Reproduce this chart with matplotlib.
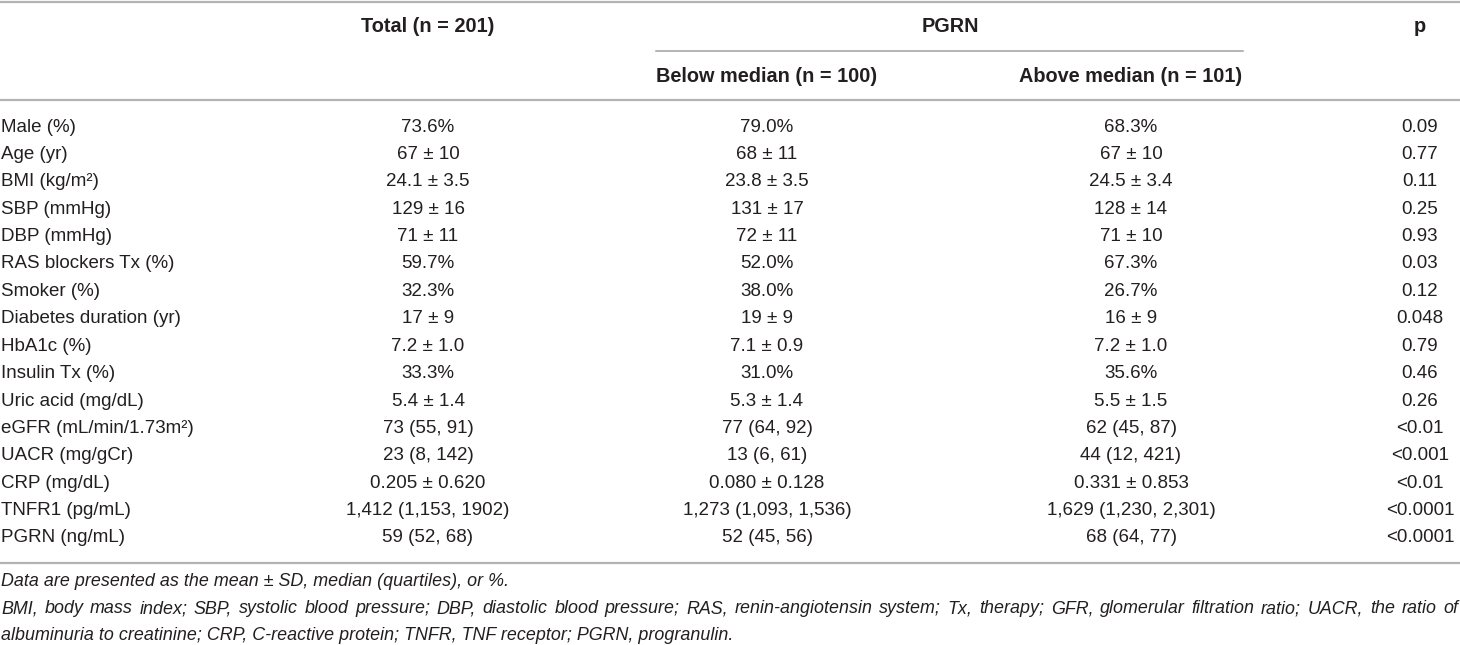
import matplotlib
matplotlib.use('Agg')
import matplotlib.pyplot as plt

plt.rcParams['font.family'] = ['Liberation Sans', 'DejaVu Sans']

row_labels = ['Male (%)', 'Age (yr)', 'BMI (kg/m²)', 'SBP (mmHg)', 'DBP (mmHg)',
              'RAS blockers Tx (%)', 'Smoker (%)', 'Diabetes duration (yr)',
              'HbA1c (%)', 'Insulin Tx (%)', 'Uric acid (mg/dL)',
              'eGFR (mL/min/1.73m²)', 'UACR (mg/gCr)', 'CRP (mg/dL)',
              'TNFR1 (pg/mL)', 'PGRN (ng/mL)']
total = ['73.6%', '67 ± 10', '24.1 ± 3.5', '129 ± 16', '71 ± 11', '59.7%', '32.3%',
         '17 ± 9', '7.2 ± 1.0', '33.3%', '5.4 ± 1.4', '73 (55, 91)', '23 (8, 142)',
         '0.205 ± 0.620', '1,412 (1,153, 1902)', '59 (52, 68)']
below = ['79.0%', '68 ± 11', '23.8 ± 3.5', '131 ± 17', '72 ± 11', '52.0%', '38.0%',
         '19 ± 9', '7.1 ± 0.9', '31.0%', '5.3 ± 1.4', '77 (64, 92)', '13 (6, 61)',
         '0.080 ± 0.128', '1,273 (1,093, 1,536)', '52 (45, 56)']
above = ['68.3%', '67 ± 10', '24.5 ± 3.4', '128 ± 14', '71 ± 10', '67.3%', '26.7%',
         '16 ± 9', '7.2 ± 1.0', '35.6%', '5.5 ± 1.5', '62 (45, 87)', '44 (12, 421)',
         '0.331 ± 0.853', '1,629 (1,230, 2,301)', '68 (64, 77)']
p_vals = ['0.09', '0.77', '0.11', '0.25', '0.93', '0.03', '0.12', '0.048', '0.79',
          '0.46', '0.26', '<0.01', '<0.001', '<0.01', '<0.0001', '<0.0001']

head_total = 'Total (n = 201)'
head_group = 'PGRN'
head_below = 'Below median (n = 100)'
head_above = 'Above median (n = 101)'
head_p = 'p'

notes = ['Data are presented as the mean ± SD, median (quartiles), or %.',
         'BMI, body mass index; SBP, systolic blood pressure; DBP, diastolic blood pressure; '
         'RAS, renin-angiotensin system; Tx, therapy; GFR, glomerular filtration ratio; UACR, the ratio of',
         'albuminuria to creatinine; CRP, C-reactive protein; TNFR, TNF receptor; PGRN, progranulin.']

W, H = 1460, 645
fig = plt.figure(figsize=(W / 100, H / 100), dpi=100)
ax = fig.add_axes([0, 0, 1, 1])
ax.set_xlim(0, W)
ax.set_ylim(H, 0)
ax.axis('off')

fs = 13.5
fs_head = 14.3
fs_note = 12.9
txt = '#231f20'
rule = '#b3b3b3'

# column centres
x_total, x_below, x_above, x_p = 428, 767, 1131, 1420

# rules
ax.plot([0, W], [1.5, 1.5], color=rule, lw=1.6)
ax.plot([656, 1243], [51, 51], color='#a0a0a0', lw=1.1)
ax.plot([0, W], [100, 100], color=rule, lw=1.6)
ax.plot([0, W], [563, 563], color=rule, lw=1.6)

# header
hk = dict(fontsize=fs_head, fontweight='bold', color=txt, ha='center', va='center')
ax.text(x_total, 27, head_total, **hk)
ax.text(950, 27, head_group, **hk)
ax.text(x_p, 27, head_p, **hk)
ax.text(x_below, 77, head_below, **hk)
ax.text(x_above, 77, head_above, **hk)

# body
y0, dy = 127, 27.4
bk = dict(fontsize=fs, color=txt, va='center')
for i, lab in enumerate(row_labels):
    y = y0 + i * dy
    ax.text(1, y, lab, ha='left', **bk)
    ax.text(x_total, y, total[i], ha='center', **bk)
    ax.text(x_below, y, below[i], ha='center', **bk)
    ax.text(x_above, y, above[i], ha='center', **bk)
    ax.text(x_p, y, p_vals[i], ha='center', **bk)

# footnotes (second line justified to full width)
fig.canvas.draw()
rend = fig.canvas.get_renderer()
for j, note in enumerate(notes):
    y = 582 + j * 26.5
    if j != 1:
        ax.text(1, y, note, ha='left', va='center', fontsize=fs_note, style='italic', color=txt)
        continue
    words = note.split(' ')
    arts = [ax.text(0, y, w, ha='left', va='center', fontsize=fs_note, style='italic', color=txt)
            for w in words]
    widths = [a.get_window_extent(renderer=rend).width for a in arts]
    gap = (W - 3 - sum(widths)) / (len(words) - 1)
    x = 1
    for a, w in zip(arts, widths):
        a.set_x(x)
        x += w + gap

fig.savefig('out.png', dpi=100)
